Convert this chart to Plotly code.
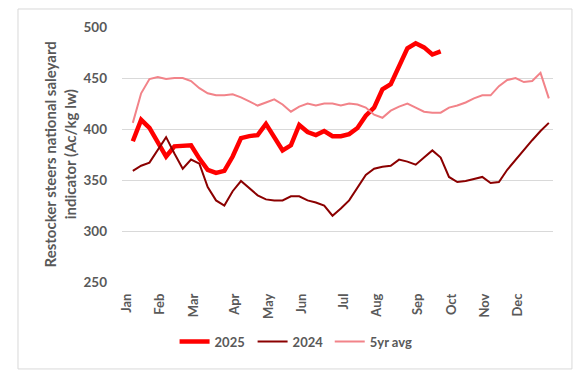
import plotly.graph_objects as go

# Week index (weekly series, Jan..Dec)
weeks = list(range(51))

month_ticks = [0, 4, 8, 13, 17, 21, 26, 30, 35, 39, 43, 47]
month_labels = ["Jan", "Feb", "Mar", "Apr", "May", "Jun", "Jul", "Aug", "Sep", "Oct", "Nov", "Dec"]

y2025 = [388, 409, 401, 386, 373, 383, 384, 384, 371, 360, 357, 359, 373, 391, 393, 394,
         405, 392, 379, 384, 404, 397, 394, 398, 393, 393, 395, 401, 413, 421, 439, 444,
         461, 479, 484, 480, 473, 476]

y2024 = [359, 364, 367, 379, 392, 376, 361, 370, 366, 343, 330, 325, 339, 349, 342, 335,
         331, 330, 330, 334, 334, 330, 328, 325, 315, 322, 330, 342, 355, 361, 363, 364,
         370, 368, 365, 372, 379, 372, 353, 348, 349, 351, 353, 347, 348, 360, 370, 380,
         389, 398, 406]

y5yr = [406, 435, 449, 451, 449, 450, 450, 447, 440, 435, 433, 433, 434, 431, 427, 423,
        426, 429, 424, 417, 422, 425, 423, 425, 425, 423, 425, 424, 421, 414, 411, 418,
        422, 425, 421, 417, 416, 416, 421, 423, 426, 430, 433, 433, 442, 448, 450, 446,
        447, 455, 430]

FONT = "Lato"
GREY = "#595959"

fig = go.Figure()
fig.add_trace(go.Scatter(x=weeks[:len(y2025)], y=y2025, mode="lines", name="2025",
                         legend="legend",
                         line=dict(color="#FF0000", width=4.5)))
fig.add_trace(go.Scatter(x=weeks[:len(y2024)], y=y2024, mode="lines", name="2024",
                         legend="legend2",
                         line=dict(color="#8B0000", width=2)))
fig.add_trace(go.Scatter(x=weeks[:len(y5yr)], y=y5yr, mode="lines", name="5yr avg",
                         legend="legend3",
                         line=dict(color="#F28389", width=2)))

legend_common = dict(orientation="h", y=-0.234, xanchor="left", yanchor="middle",
                     font=dict(family=FONT, size=13, color=GREY, weight=700),
                     itemwidth=30, bgcolor="rgba(0,0,0,0)")

fig.update_layout(
    width=588, height=381,
    margin=dict(l=122, r=35, t=27, b=99),
    paper_bgcolor="white", plot_bgcolor="white",
    font=dict(family=FONT, size=13, color=GREY, weight=700),
    showlegend=True,
    legend=dict(x=0.122, **legend_common),
    legend2=dict(x=0.303, **legend_common),
    legend3=dict(x=0.482, **legend_common),
    xaxis=dict(range=[-1.3, 50.5], tickmode="array",
               tickvals=[t - 0.7 for t in month_ticks],
               ticktext=month_labels, tickangle=-90, showgrid=False, zeroline=False,
               showline=False, ticks="", ticklabelstandoff=8,
               tickfont=dict(family=FONT, size=13, color=GREY, weight=700)),
    yaxis=dict(range=[250, 500], tickvals=[250, 300, 350, 400, 450, 500],
               showgrid=True, gridcolor="#D9D9D9", gridwidth=1, zeroline=False,
               showline=False, ticks="", ticklabelstandoff=14,
               tickfont=dict(family=FONT, size=13.5, color=GREY, weight=700)),
    shapes=[dict(type="rect", xref="paper", yref="paper",
                 x0=-0.2413, x1=1.044, y0=-0.341, y1=1.0706,
                 line=dict(color="#D9D9D9", width=1), fillcolor="rgba(0,0,0,0)", layer="below")],
    annotations=[dict(text="Restocker steers national saleyard<br>indicator (Ac/kg lw)",
                      xref="paper", yref="paper", x=-0.144, y=0.5, xanchor="center",
                      yanchor="middle", textangle=-90, showarrow=False,
                      font=dict(family=FONT, size=15, color=GREY, weight=700))],
)

fig.write_html("out.html", config={"displayModeBar": False},
               post_script="document.body.style.margin='0';")
